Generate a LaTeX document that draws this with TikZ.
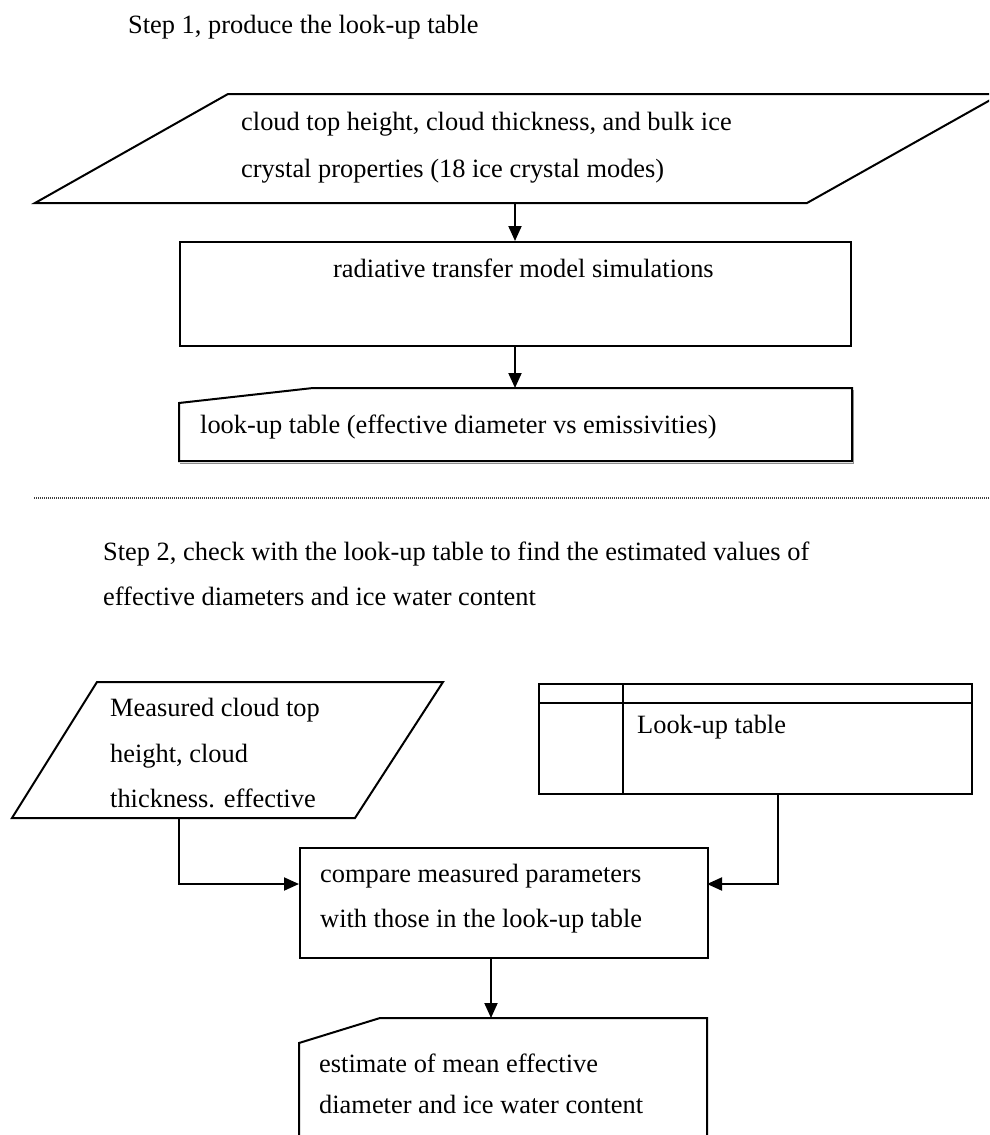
\documentclass[tikz,border=0pt]{standalone}
\usepackage{fontspec}
\setmainfont{Liberation Serif}
\usetikzlibrary{arrows.meta}
\begin{document}
\begin{tikzpicture}[x=1pt,y=-1pt,
  shp/.style={draw=black, line width=2pt, line join=miter},
  boxnode/.style={shp, rectangle, inner sep=0pt, anchor=north west},
  conn/.style={draw=black, line width=2pt},
  arr/.style={conn, -{Triangle[length=15pt,width=13pt]}},
  lbl/.style={anchor=base west, inner sep=0pt, font=\fontsize{26.4}{47}\selectfont},
  sep/.style={draw=black!75, line width=1.4pt, dash pattern=on 1pt off 1pt},
]
\useasboundingbox (0,0) rectangle (989,1135);
\clip (0,0) rectangle (989,1135);
\fill[white] (0,0) rectangle (989,1135);

% ---------- Step 1 ----------
\node[lbl] (s1) at (128,33) {Step 1, produce the look-up table};

\draw[shp] (228,94) -- (1001,94) -- (807,203) -- (35,203) -- cycle;
\node[lbl] (in1a) at (241,130) {cloud top height, cloud thickness, and bulk ice};
\node[lbl] (in1b) at (241,177) {crystal properties (18 ice crystal modes)};
\coordinate (in1) at (515,203);

\node[boxnode, minimum width=671pt, minimum height=104pt] (rt) at (179,241) {};
\node[lbl] (rtl) at (333,277) {radiative transfer model simulations};

\draw[shp] (179,461) -- (179,403) -- (313,388) -- (852,388) -- (852,461) -- cycle;
\draw[black!45, line width=1pt] (180,463) -- (853,463) -- (853,390);
\coordinate (lut) at (515,388);
\node[lbl] (lutl) at (200,433) {look-up table (effective diameter vs emissivities)};

\draw[arr] (in1) -- (in1 |- rt.north);
\draw[arr] (rt.south -| in1) -- (lut);

\draw[sep] (34,498) -- (989,498);

% ---------- Step 2 ----------
\node[lbl] (s2a) at (103,560) {Step 2, check with the look-up table to find the estimated values of};
\node[lbl] (s2b) at (103,605) {effective diameters and ice water content};

\draw[shp] (97,682) -- (443,682) -- (355,818) -- (12,818) -- cycle;
\node[lbl] (m1) at (110,716) {Measured cloud top};
\node[lbl] (m2) at (110,762) {height, cloud};
\node[lbl] (m3) at (110,807) {thickness. effective};
\coordinate (meas) at (179,818);

\node[boxnode, minimum width=433pt, minimum height=110pt] (tbl) at (538,683) {};
\draw[shp] (538,703) -- (971,703);
\draw[shp] (623,683) -- (623,793);
\node[lbl] (tbll) at (637,733) {Look-up table};
\coordinate (tblb) at (778,793);

\node[boxnode, minimum width=408pt, minimum height=110pt] (cmp) at (299,847) {};
\node[lbl] (c1) at (320,882) {compare measured parameters};
\node[lbl] (c2) at (320,927) {with those in the look-up table};
\coordinate (cmpL) at (299,884);
\coordinate (cmpR) at (707,884);
\coordinate (cmpB) at (491,957);

\draw[shp] (299,1150) -- (299,1043) -- (380,1018) -- (707,1018) -- (707,1150);
\coordinate (est) at (491,1018);
\node[lbl] (e1) at (319,1072) {estimate of mean effective};
\node[lbl] (e2) at (319,1113) {diameter and ice water content};

\draw[arr] (meas) |- (cmpL);
\draw[arr] (tblb) |- (cmpR);
\draw[arr] (cmpB) -- (est);
\end{tikzpicture}
\end{document}
